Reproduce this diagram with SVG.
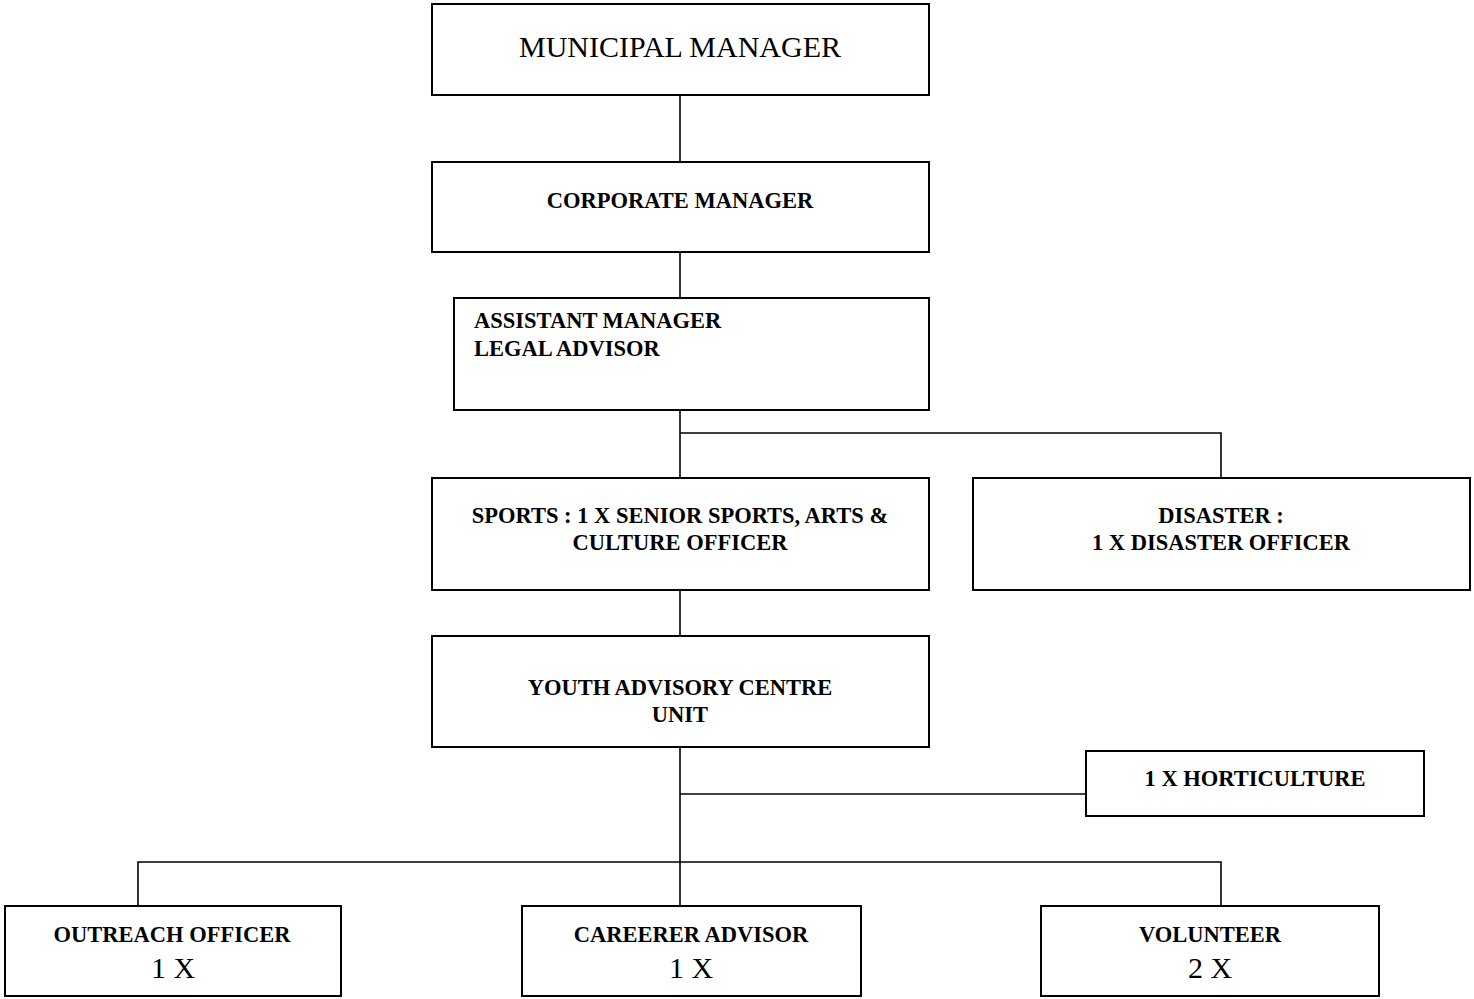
<svg xmlns="http://www.w3.org/2000/svg" width="1474" height="999" viewBox="0 0 1474 999">
<style>
.box{fill:#fff;stroke:#000;stroke-width:2}
.ln{fill:none;stroke:#000;stroke-width:1.6}
.b{font-family:"Liberation Serif","Times New Roman",serif;font-weight:bold;font-size:22.5px;fill:#000}
.r{font-family:"Liberation Serif","Times New Roman",serif;font-size:30px;fill:#000}
.c{text-anchor:middle}
</style>
<rect width="1474" height="999" fill="#fff"/>
<g id="connectors">
<path class="ln" d="M680,95 V162"/>
<path class="ln" d="M680,252 V298"/>
<path class="ln" d="M680,410 V478"/>
<path class="ln" d="M680,433 H1221 V478"/>
<path class="ln" d="M680,590 V636"/>
<path class="ln" d="M680,747 V906"/>
<path class="ln" d="M680,794 H1086"/>
<path class="ln" d="M138,906 V862 H1221 V906"/>
</g>
<g id="municipal-manager">
<rect class="box" x="432" y="4" width="497" height="91"/>
<text class="r c" x="680" y="57">MUNICIPAL MANAGER</text>
</g>
<g id="corporate-manager">
<rect class="box" x="432" y="162" width="497" height="90"/>
<text class="b c" x="680" y="208">CORPORATE MANAGER</text>
</g>
<g id="assistant-manager">
<rect class="box" x="454" y="298" width="475" height="112"/>
<text class="b" x="474" y="328">ASSISTANT MANAGER</text>
<text class="b" x="474" y="356">LEGAL ADVISOR</text>
</g>
<g id="sports">
<rect class="box" x="432" y="478" width="497" height="112"/>
<text class="b c" x="680" y="523">SPORTS : 1 X SENIOR SPORTS, ARTS &amp;</text>
<text class="b c" x="680" y="550">CULTURE OFFICER</text>
</g>
<g id="disaster">
<rect class="box" x="973" y="478" width="497" height="112"/>
<text class="b c" x="1221" y="523">DISASTER :</text>
<text class="b c" x="1221" y="550">1 X DISASTER OFFICER</text>
</g>
<g id="youth-advisory">
<rect class="box" x="432" y="636" width="497" height="111"/>
<text class="b c" x="680" y="695">YOUTH ADVISORY CENTRE</text>
<text class="b c" x="680" y="722">UNIT</text>
</g>
<g id="horticulture">
<rect class="box" x="1086" y="751" width="338" height="65"/>
<text class="b c" x="1255" y="786">1 X HORTICULTURE</text>
</g>
<g id="outreach">
<rect class="box" x="5" y="906" width="336" height="90"/>
<text class="b c" x="172" y="942">OUTREACH OFFICER</text>
<text class="r c" x="173" y="978">1 X</text>
</g>
<g id="careerer">
<rect class="box" x="522" y="906" width="339" height="90"/>
<text class="b c" x="691" y="942">CAREERER ADVISOR</text>
<text class="r c" x="691" y="978">1 X</text>
</g>
<g id="volunteer">
<rect class="box" x="1041" y="906" width="338" height="90"/>
<text class="b c" x="1210" y="942">VOLUNTEER</text>
<text class="r c" x="1210" y="978">2 X</text>
</g>
</svg>
